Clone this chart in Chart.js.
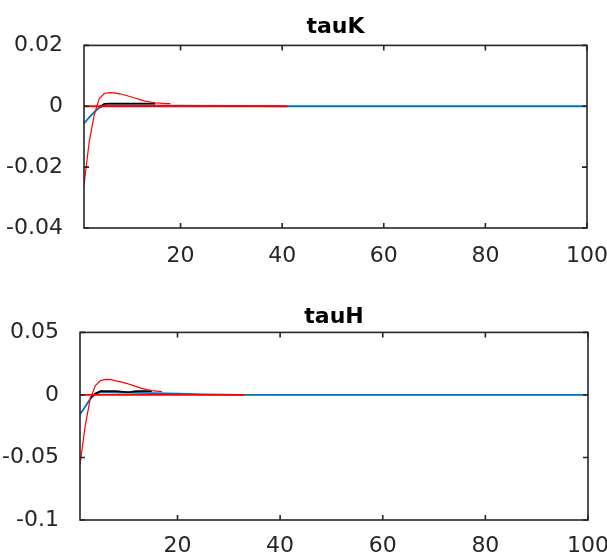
<!DOCTYPE html>
<html>
<head>
<meta charset="utf-8">
<script src="https://cdn.jsdelivr.net/npm/chart.js@4"></script>
<style>
  html, body { margin: 0; padding: 0; background: #fff; }
  #wrap { position: relative; width: 607px; height: 554px; }
  .box { position: absolute; left: 0; width: 607px; }
  #boxK { top: 0; height: 290px; }
  #boxH { top: 290px; height: 264px; }
</style>
</head>
<body>
<div id="wrap">
  <div class="box" id="boxK"><canvas id="tauK"></canvas></div>
  <div class="box" id="boxH"><canvas id="tauH"></canvas></div>
</div>
<script>
// shared x axis (periods)
const xTicks = [20, 40, 60, 80, 100];

// tauK panel
const yTicksK = [0.02, 0, -0.02, -0.04];
const redK1x = [1, 2, 3, 4, 5, 6, 7, 8, 9, 10, 11, 12, 13, 14, 15, 16, 17, 18];
const redK1 = [-0.026, -0.012, -0.003, 0.0025, 0.0042, 0.0045, 0.0044, 0.0041, 0.0037, 0.0032, 0.0027, 0.0022, 0.0017, 0.0014, 0.0011, 0.001, 0.0009, 0.0009];
const redK2x = [1, 41];
const redK2 = [0, 0];
const blueKx = [1, 2, 3, 4, 5, 6, 10, 20, 30, 40, 100];
const blueK = [-0.0056, -0.0037, -0.0019, -0.0005, 0.0002, 0.0003, 0.0003, 0.0002, 0.0001, 0, 0];
const blackKx = [4, 5, 6, 10, 15];
const blackK = [-0.0003, 0.0008, 0.0009, 0.0009, 0.0009];

// tauH panel
const yTicksH = [0.05, 0, -0.05, -0.1];
const redH1x = [1, 2, 3, 4, 5, 6, 7, 8, 9, 10, 11, 12, 13, 14, 15, 16, 17];
const redH1 = [-0.056, -0.025, -0.003, 0.0075, 0.0115, 0.0125, 0.0122, 0.0112, 0.0104, 0.0093, 0.008, 0.0066, 0.0052, 0.0042, 0.0034, 0.003, 0.0027];
const redH2x = [1, 33];
const redH2 = [0, 0];
const blueHx = [1, 2, 3, 4, 5, 6, 10, 15, 20, 25, 33, 100];
const blueH = [-0.0155, -0.0095, -0.0032, 0.0008, 0.0022, 0.002, 0.0018, 0.0015, 0.001, 0.0005, 0, 0];
const blackHx = [3, 4, 5, 8, 9, 10, 11, 12, 15];
const blackH = [-0.0025, 0.0012, 0.003, 0.003, 0.0026, 0.0022, 0.0024, 0.003, 0.003];

const FONT = 'DejaVu Sans';
const INK = '#262626';

function pts(xs, ys) {
  return xs.map((v, i) => ({ x: v, y: ys[i] }));
}

// MATLAB-like box with inward ticks
const frame = {
  id: 'frame',
  afterDatasetsDraw(chart) {
    const { ctx, chartArea: a, scales: { x, y } } = chart;
    ctx.save();
    ctx.strokeStyle = INK;
    ctx.lineWidth = 1.6;
    ctx.strokeRect(a.left, a.top, a.right - a.left, a.bottom - a.top);
    ctx.beginPath();
    x.ticks.forEach(t => {
      const p = x.getPixelForValue(t.value);
      ctx.moveTo(p, a.bottom); ctx.lineTo(p, a.bottom - 5);
      ctx.moveTo(p, a.top); ctx.lineTo(p, a.top + 5);
    });
    y.ticks.forEach(t => {
      const p = y.getPixelForValue(t.value);
      ctx.moveTo(a.left, p); ctx.lineTo(a.left + 5, p);
      ctx.moveTo(a.right, p); ctx.lineTo(a.right - 5, p);
    });
    ctx.stroke();
    ctx.restore();
  }
};

function makeChart(id, c) {
  return new Chart(document.getElementById(id), {
    type: 'line',
    data: {
      // first dataset is painted last (on top)
      datasets: [
        { data: pts(c.r1x, c.r1), borderColor: '#FF0000', borderWidth: 1.2 },
        { data: pts(c.r2x, c.r2), borderColor: '#FF0000', borderWidth: 1.8 },
        { data: pts(c.kx, c.k), borderColor: '#000000', borderWidth: 1.8 },
        { data: pts(c.bx, c.b), borderColor: '#0072BD', borderWidth: 1.8 }
      ]
    },
    options: {
      responsive: true,
      maintainAspectRatio: false,
      animation: false,
      events: [],
      elements: { point: { radius: 0 }, line: { tension: 0 } },
      layout: { padding: { left: 0, right: c.padRight, top: 0, bottom: 0 } },
      plugins: {
        legend: { display: false },
        tooltip: { enabled: false },
        title: {
          display: true,
          text: c.title,
          fullSize: false,
          color: '#000',
          font: { family: FONT, size: 22, weight: 'bold' },
          padding: { top: c.titleTop, bottom: c.titleBottom }
        }
      },
      scales: {
        x: {
          type: 'linear',
          min: 1,
          max: 100,
          afterBuildTicks: s => { s.ticks = xTicks.map(v => ({ value: v })); },
          afterFit: s => { s.height = c.xHeight; s.paddingLeft = 0; s.paddingRight = 0; },
          grid: { display: false },
          border: { display: false },
          ticks: { color: INK, font: { family: FONT, size: 22 }, padding: c.xPad, maxRotation: 0, autoSkip: false }
        },
        y: {
          min: c.yMin,
          max: c.yMax,
          afterBuildTicks: s => { s.ticks = c.yTicks.map(v => ({ value: v })); },
          afterFit: s => { s.width = c.yWidth; s.paddingTop = 0; s.paddingBottom = 0; },
          grid: { display: false },
          border: { display: false },
          ticks: { color: INK, font: { family: FONT, size: 22 }, padding: 13, callback: v => String(v) }
        }
      }
    },
    plugins: [frame]
  });
}

makeChart('tauK', {
  title: 'tauK', yMin: -0.04, yMax: 0.02, yTicks: yTicksK,
  r1x: redK1x, r1: redK1, r2x: redK2x, r2: redK2,
  bx: blueKx, b: blueK, kx: blackKx, k: blackK,
  yWidth: 84, xHeight: 62, padRight: 20, titleTop: 14, titleBottom: 5, xPad: 7
});

makeChart('tauH', {
  title: 'tauH', yMin: -0.1, yMax: 0.05, yTicks: yTicksH,
  r1x: redH1x, r1: redH1, r2x: redH2x, r2: redH2,
  bx: blueHx, b: blueH, kx: blackHx, k: blackH,
  yWidth: 80, xHeight: 34, padRight: 19, titleTop: 14, titleBottom: 2, xPad: 5
});
</script>
</body>
</html>
